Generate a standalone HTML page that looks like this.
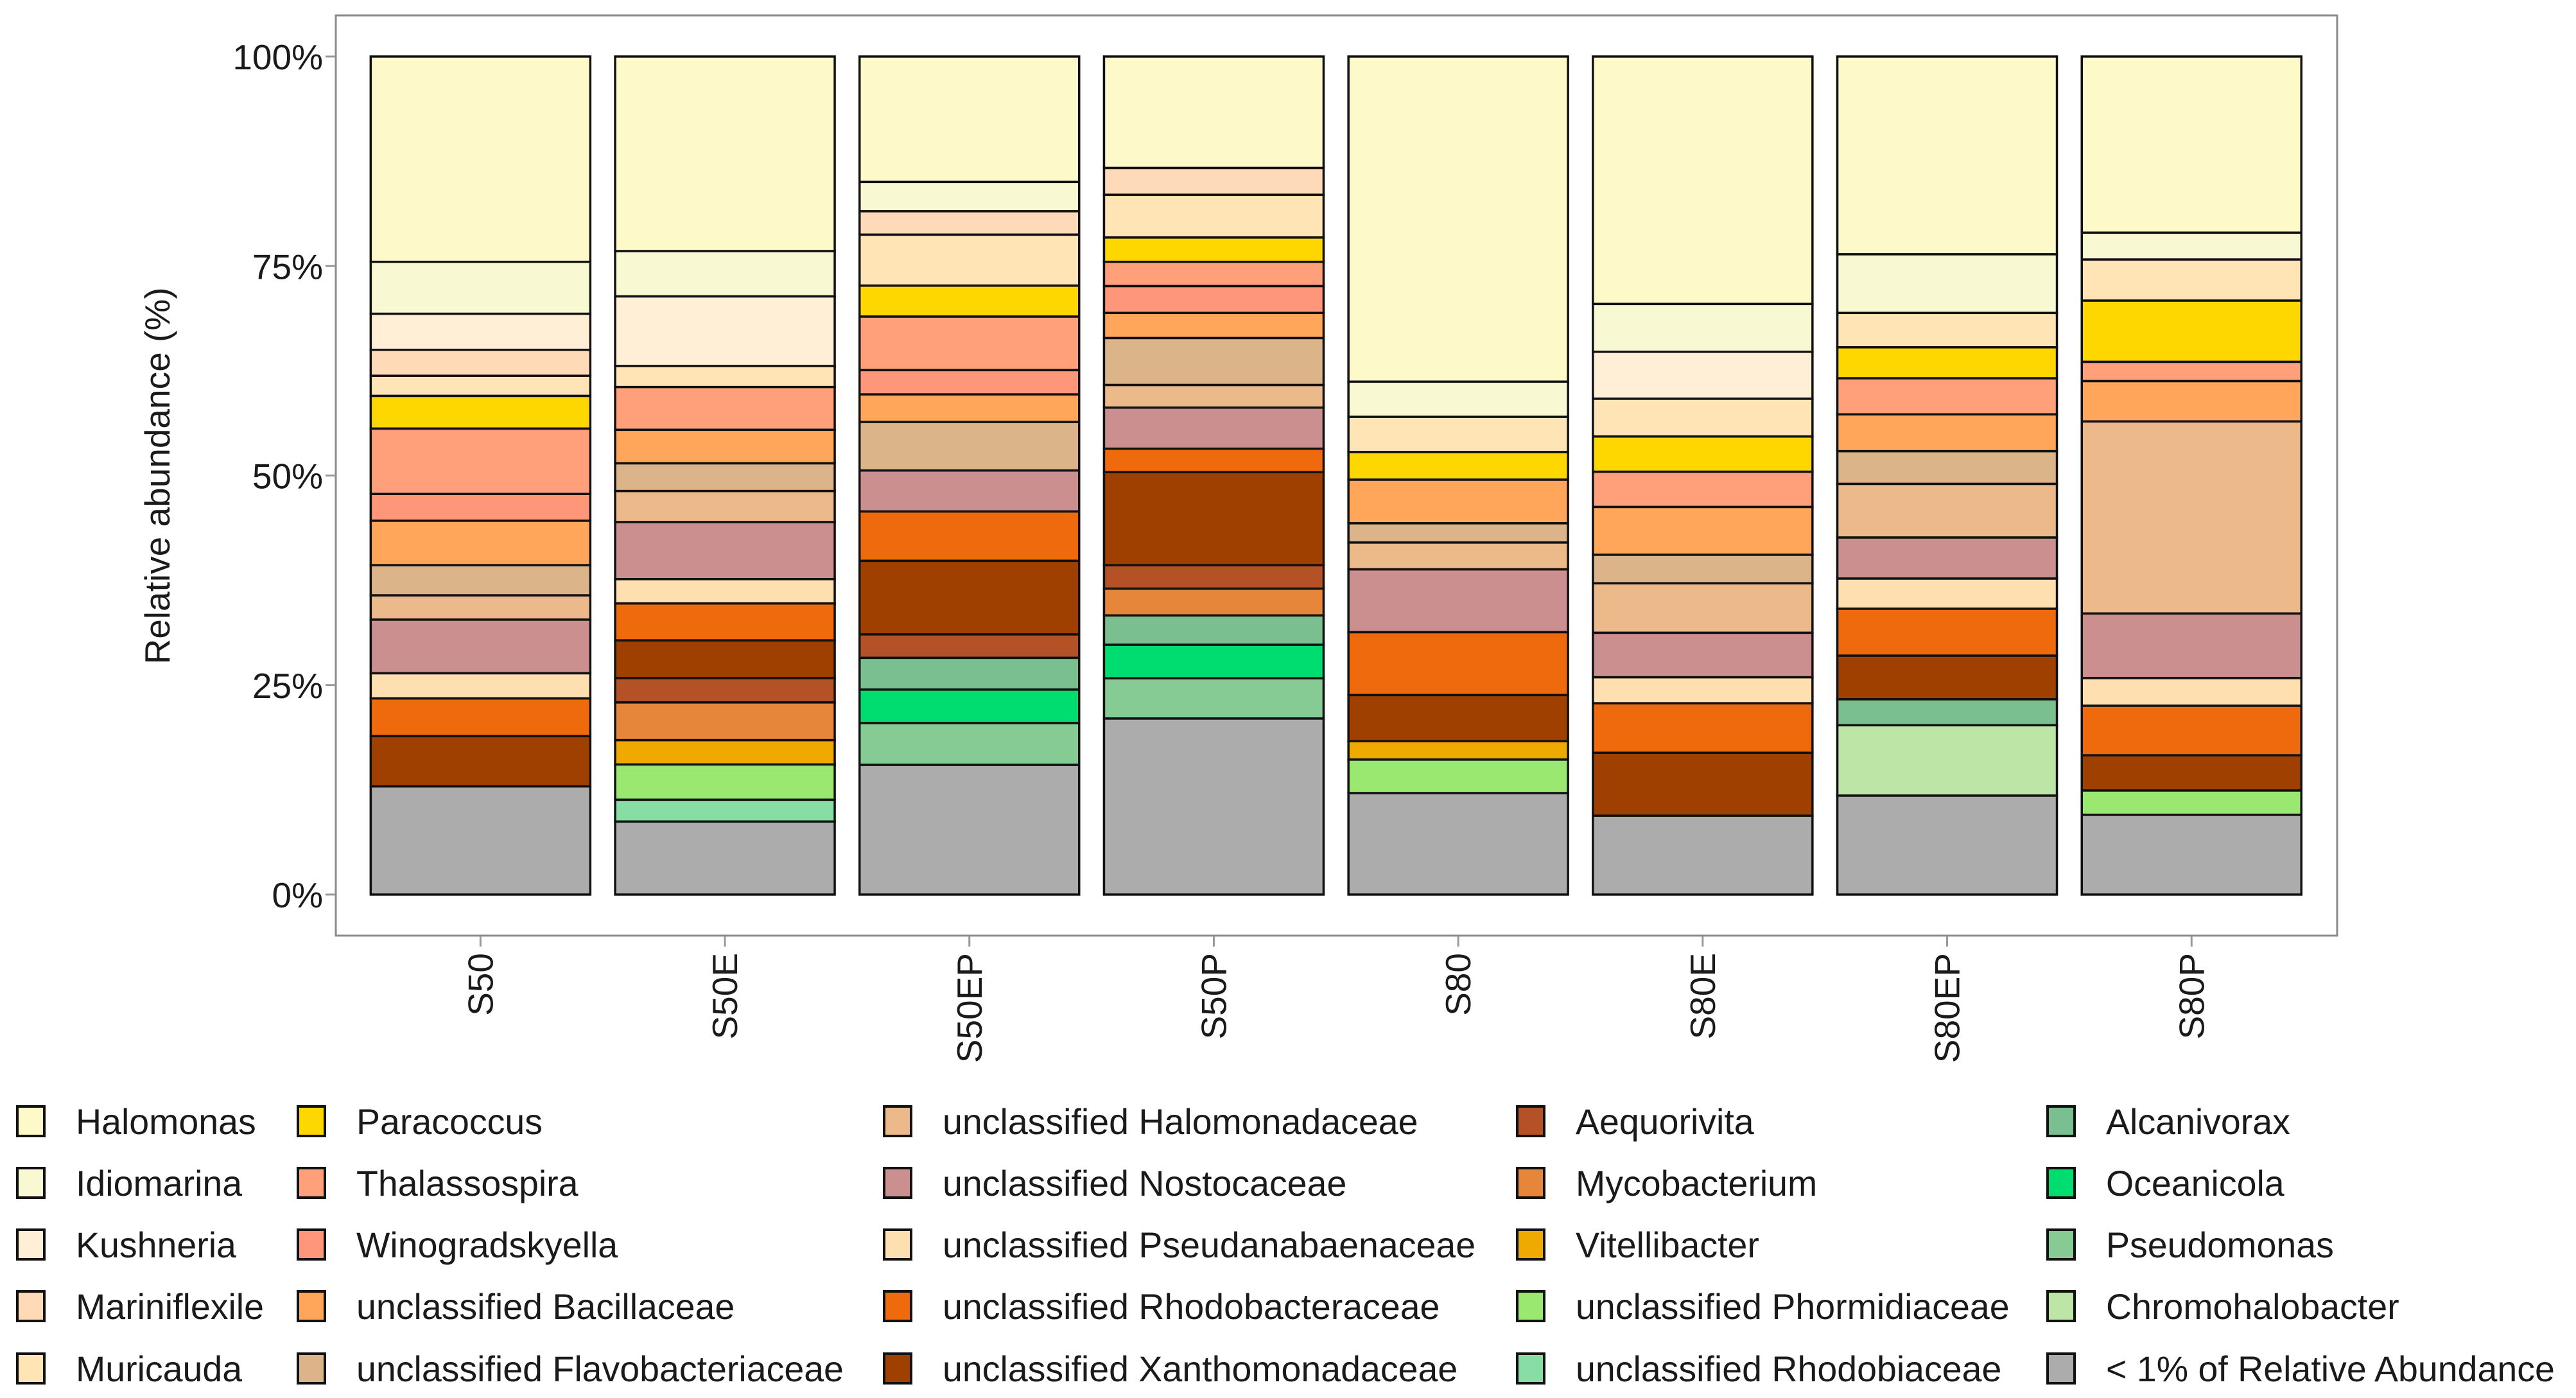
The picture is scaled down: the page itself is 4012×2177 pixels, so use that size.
<!DOCTYPE html>
<html><head><meta charset="utf-8">
<style>
html,body{margin:0;padding:0;background:#fff;}
svg{display:block;font-family:"Liberation Sans",Arial,sans-serif;}
</style></head>
<body>
<svg id="chart" width="4012" height="2177" viewBox="0 0 4012 2177" xmlns="http://www.w3.org/2000/svg">
<rect x="0" y="0" width="4012" height="2177" fill="#fff"/>
<rect x="523" y="24" width="3117" height="1433" fill="#fff" stroke="#8a8a8a" stroke-width="3"/>
<g id="yaxis"></g>
<g id="bars"></g>
<g id="xaxis"></g>
<text x="0" y="0" transform="translate(264,741) rotate(-90)" text-anchor="middle" font-size="55" fill="#1a1a1a">Relative abundance (%)</text>
<g id="legend"></g>
</svg>
<script>
const samples = ["S50","S50E","S50EP","S50P","S80","S80E","S80EP","S80P"];
const taxa = ["Halomonas","Idiomarina","Kushneria","Mariniflexile","Muricauda","Paracoccus","Thalassospira","Winogradskyella","unclassified Bacillaceae","unclassified Flavobacteriaceae","unclassified Halomonadaceae","unclassified Nostocaceae","unclassified Pseudanabaenaceae","unclassified Rhodobacteraceae","unclassified Xanthomonadaceae","Aequorivita","Mycobacterium","Vitellibacter","unclassified Phormidiaceae","unclassified Rhodobiaceae","Alcanivorax","Oceanicola","Pseudomonas","Chromohalobacter","< 1% of Relative Abundance"];
const colors = ["#fef9c8","#f8f9d2","#ffefd6","#ffdab9","#ffe4b5","#ffd700","#ffa07a","#fe967a","#ffa65a","#dcb48a","#ecb98a","#cc8f8f","#fedfb0","#ef6a0c","#a04000","#b55127","#e5863b","#eeaa00","#9ae870","#88dda5","#79bf8f","#00dd70","#86cb94","#bde5a5","#acacac"];
// values per sample, in taxa order (top to bottom of stack)
const vS50   = [24.5,6.2,4.3,3.1,2.4,3.9,7.8,3.2,5.3,3.6,2.9,6.4,3.0,4.5,6.0,0,0,0,0,0,0,0,0,0,12.9];
const vS50E  = [23.2,5.4,8.3,0,2.5,0,5.1,0,4.0,3.3,3.7,6.8,2.9,4.4,4.5,2.9,4.5,2.9,4.2,2.6,0,0,0,0,8.7];
const vS50EP = [15.0,3.5,0,2.8,6.1,3.7,6.4,2.9,3.3,5.8,0,4.9,0,5.9,8.8,2.8,0,0,0,0,3.8,4.0,5.0,0,15.5];
const vS50P  = [13.3,0,0,3.2,5.1,2.9,2.9,3.2,3.0,5.6,2.7,4.9,0,2.8,11.1,2.8,3.2,0,0,0,3.5,4.0,4.8,0,21.0];
const vS80   = [38.8,4.2,0,0,4.2,3.3,0,0,5.2,2.3,3.2,7.5,0,7.5,5.5,0,0,2.2,4.0,0,0,0,0,0,12.1];
const vS80E  = [29.5,5.7,5.6,0,4.5,4.2,4.2,0,5.7,3.4,5.9,5.3,3.1,5.9,7.5,0,0,0,0,0,0,0,0,0,9.4];
const vS80EP = [23.6,7.0,0,0,4.1,3.7,4.3,0,4.4,3.9,6.4,4.9,3.6,5.6,5.2,0,0,0,0,0,3.1,0,0,8.4,11.8];
const vS80P  = [21.0,3.2,0,0,4.9,7.3,2.3,0,4.8,0,22.9,7.7,3.3,5.9,4.2,0,0,0,2.9,0,0,0,0,0,9.5];
const values = [vS50,vS50E,vS50EP,vS50P,vS80,vS80E,vS80EP,vS80P];
const yTicks = [0,25,50,75,100];
const yTickLabels = ["0%","25%","50%","75%","100%"];

const NS="http://www.w3.org/2000/svg";
const y0=1393, y100=88;
function yScale(p){return y0-(y0-y100)*p/100;}
const bandStart=558, band=380.7, barW=342;
function xCenter(i){return bandStart+band*(i+0.5);}
function mk(tag,attrs,parent){const e=document.createElementNS(NS,tag);for(const k in attrs)e.setAttribute(k,attrs[k]);parent.appendChild(e);return e;}

const yaxis=document.getElementById('yaxis');
yTicks.forEach((t,i)=>{
  const y=yScale(t);
  const ln=mk('line',{x1:507,x2:522,y1:y,y2:y,stroke:'#999','stroke-width':3},yaxis);
  
  
  const tx=mk('text',{x:503,y:y+20,'text-anchor':'end','font-size':55,fill:'#1a1a1a'},yaxis);
  tx.textContent=yTickLabels[i];
  
  
});

const bars=document.getElementById('bars');
values.forEach((vals,i)=>{
  const g=mk('g',{},bars);
  
  
  const total=vals.reduce((a,b)=>a+b,0);
  let top=100;
  const x=xCenter(i)-barW/2;
  vals.forEach((v,j)=>{
    if(v<=0)return;
    const h=v/total*100;
    const yt=yScale(top), yb=yScale(top-h);
    const r=mk('rect',{x:x,y:yt,width:barW,height:yb-yt,fill:colors[j],stroke:'#111','stroke-width':3.5},g);
    
    
    top-=h;
  });
});

const xaxis=document.getElementById('xaxis');
samples.forEach((s,i)=>{
  const cx=xCenter(i);
  const ln=mk('line',{x1:cx,x2:cx,y1:1458,y2:1474,stroke:'#999','stroke-width':3},xaxis);
  
  
  const tx=mk('text',{x:0,y:0,transform:'translate('+(cx+19)+',1484) rotate(-90)','text-anchor':'end','font-size':55,fill:'#1a1a1a'},xaxis);
  tx.textContent=s;
  
  
});

const legend=document.getElementById('legend');
const colKey=[25,462,1375,2361,3187];
const rowY=[1746,1842,1938,2034,2131];
taxa.forEach((t,j)=>{
  const c=Math.floor(j/5), r=j%5;
  const g=mk('g',{},legend);
  
  
  const k=mk('rect',{x:colKey[c]+2,y:rowY[r]-23,width:42,height:46,fill:colors[j],stroke:'#111','stroke-width':4},g);
  
  
  const tx=mk('text',{x:colKey[c]+93,y:rowY[r]+20,'font-size':55.5,fill:'#1a1a1a'},g);
  tx.textContent=t;
  
  
});
</script>
</body></html>
